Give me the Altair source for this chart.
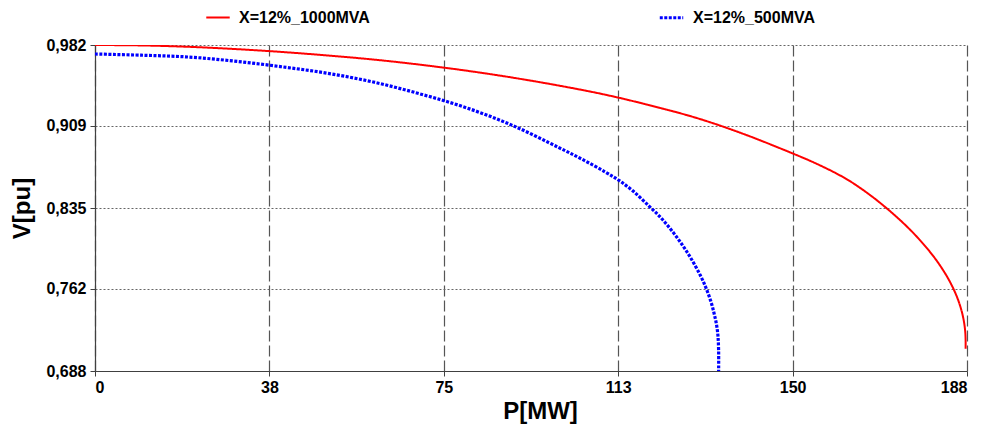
import altair as alt
import pandas as pd

series_names = ["X=12%_1000MVA", "X=12%_500MVA"]

p_1000 = [0, 10, 20, 30, 40, 50, 60, 70, 80, 90, 100, 110, 120, 130, 140, 150, 155, 160,
          163, 167, 170, 173, 176, 178, 180, 182, 184, 185.5, 186.5, 187.2, 187.6, 187.7, 187.7]
v_1000 = [0.9820, 0.9816, 0.9804, 0.9784, 0.9758, 0.9726, 0.9689, 0.9643, 0.9589, 0.9526,
          0.9454, 0.9372, 0.9272, 0.9158, 0.9015, 0.8849, 0.8760, 0.8658, 0.8586, 0.8470,
          0.8371, 0.8263, 0.8143, 0.8053, 0.7955, 0.7843, 0.7709, 0.7582, 0.7470, 0.7357,
          0.7244, 0.7160, 0.7080]

p_500 = [0, 10, 20, 30, 40, 50, 60, 70, 80, 90, 100, 105, 110, 113, 116, 119.5, 122, 124.5,
         126.7, 128.5, 130.5, 131.7, 132.8, 133.5, 134.0, 134.3, 134.45, 134.45]
v_500 = [0.9739, 0.9728, 0.9712, 0.9675, 0.9625, 0.9566, 0.9486, 0.9380, 0.9255, 0.9095,
         0.8895, 0.8790, 0.8675, 0.8598, 0.8503, 0.8365, 0.8262, 0.8138, 0.8012, 0.7895,
         0.7743, 0.7632, 0.7505, 0.7395, 0.7297, 0.7200, 0.7060, 0.6880]

x_ticks = [0, 37.6, 75.2, 112.8, 150.4, 188]
y_ticks = [0.688, 0.762, 0.835, 0.909, 0.982]

rows = []
for name, ps, vs in [(series_names[0], p_1000, v_1000), (series_names[1], p_500, v_500)]:
    for i, (p, v) in enumerate(zip(ps, vs)):
        rows.append({"series": name, "P": p, "V": v, "i": i})
df = pd.DataFrame(rows)

FONT = "Liberation Sans"

legend = alt.Legend(
    title=None,
    orient="none",
    legendX=110,
    legendY=-41,
    direction="horizontal",
    labelFont=FONT,
    labelFontSize=16,
    labelFontWeight="bold",
    labelColor="#000000",
    symbolType="stroke",
    symbolSize=550,
    labelOffset=8,
    columnPadding=283,
)

chart = alt.Chart(df).mark_line(clip=True, interpolate="catmull-rom").encode(
    x=alt.X(
        "P:Q",
        scale=alt.Scale(domain=[0, 188], nice=False, zero=False),
        axis=alt.Axis(
            values=x_ticks,
            format=".0f",
            title="P[MW]",
            titleX=445,
            titleY=40,
            titleBaseline="middle",
            titleAlign="center",
            labelPadding=3,
        ),
    ),
    y=alt.Y(
        "V:Q",
        scale=alt.Scale(domain=[0.688, 0.982], nice=False, zero=False),
        axis=alt.Axis(
            values=y_ticks,
            labelExpr="replace(format(datum.value, '.3f'), '.', ',')",
            title="V[pu]",
            titleX=-73,
            titleY=163,
            titleAngle=270,
            titleBaseline="middle",
            titleAlign="center",
            labelPadding=4,
            gridDash=[2, 2],
            gridColor="#666666",
        ),
    ),
    color=alt.Color("series:N", scale=alt.Scale(domain=series_names, range=["#ff0000", "#0000ff"]), legend=legend),
    strokeDash=alt.StrokeDash("series:N", scale=alt.Scale(domain=series_names, range=[[1, 0], [3, 1.5]]), legend=legend),
    strokeWidth=alt.StrokeWidth("series:N", scale=alt.Scale(domain=series_names, range=[2, 3.2]), legend=legend),
    order=alt.Order("i:Q"),
).properties(
    width=872,
    height=326,
    autosize=alt.AutoSizeParams(type="none"),
    padding={"left": 95, "top": 45, "right": 17, "bottom": 59},
).configure_view(
    stroke=None
).configure_axis(
    labelFont=FONT,
    labelFontSize=16,
    labelFontWeight="bold",
    labelColor="#000000",
    titleFont=FONT,
    titleFontSize=24,
    titleFontWeight="bold",
    titleColor="#000000",
    domainColor="#404040",
    domainWidth=1.2,
    tickColor="#404040",
    tickSize=5,
    grid=True,
).configure_axisX(
    gridDash=[11, 4],
    gridColor="#555555",
    gridWidth=1.2,
)

chart.save("out.html", embed_options={"renderer": "svg", "actions": False})
